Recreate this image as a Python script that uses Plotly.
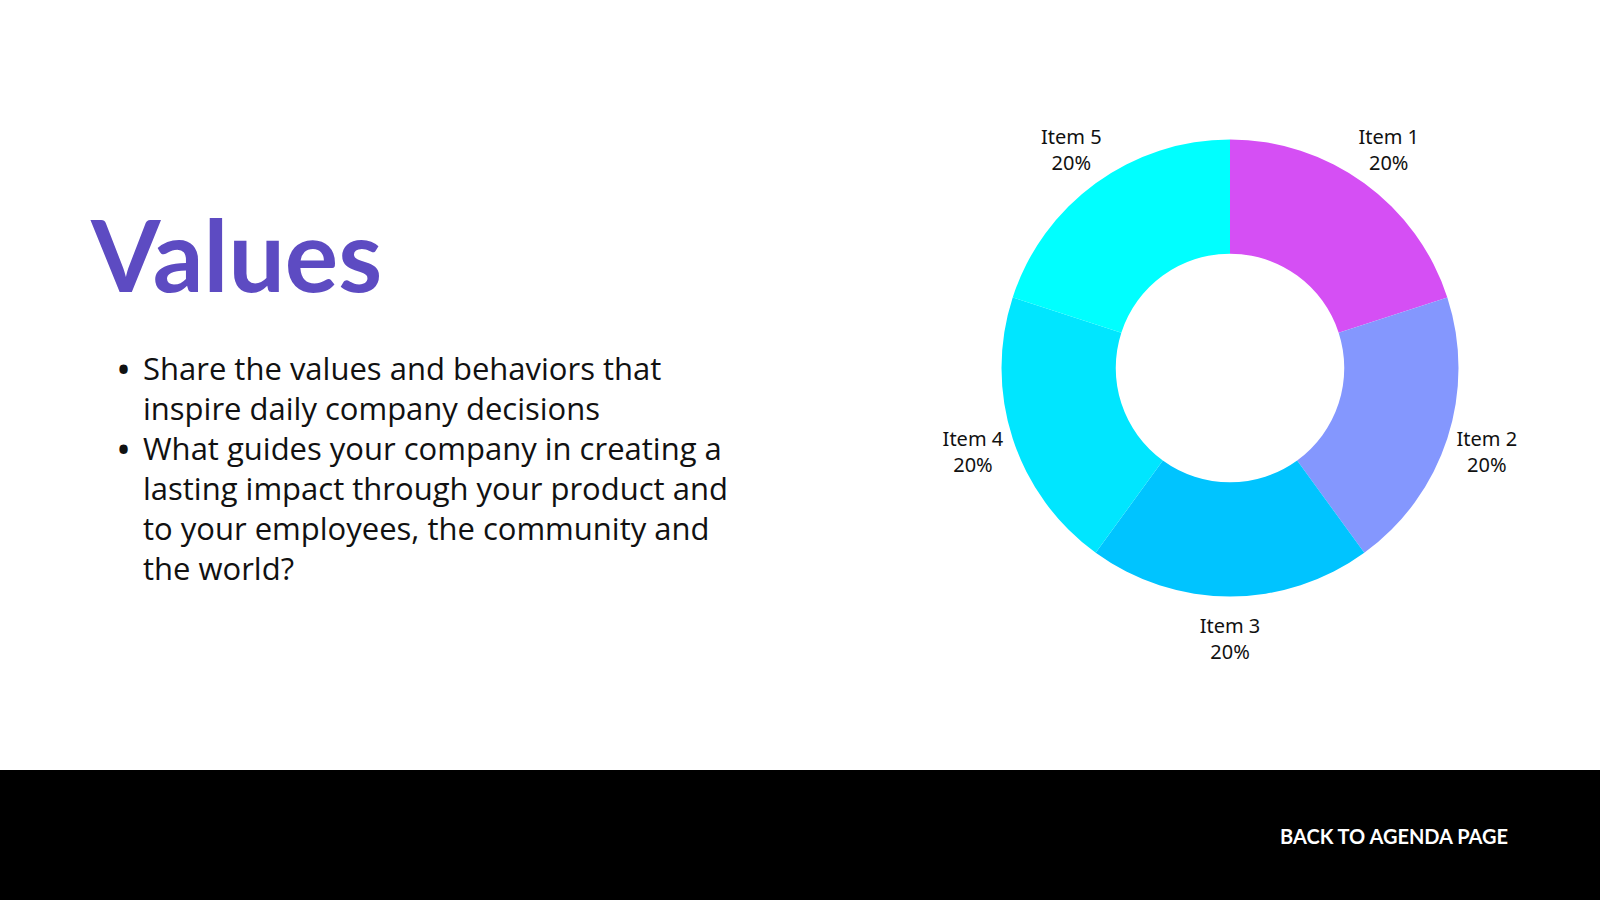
import plotly.graph_objects as go

# donut data
items = ["Item 1", "Item 2", "Item 3", "Item 4", "Item 5"]
shares = [20, 20, 20, 20, 20]
slice_colors = ["#D54FF4", "#8497FE", "#00C4FF", "#00E6FF", "#00FFFF"]

title = "Values"
bullets = [
    ["Share the values and behaviors that", "inspire daily company decisions"],
    ["What guides your company in creating a", "lasting impact through your product and",
     "to your employees, the community and", "the world?"],
]
footer = "BACK TO AGENDA PAGE"

W, H = 1600, 900
cx, cy, r = 1230, 368, 228.5


def dom(rad):
    return dict(x=[(cx - rad) / W, (cx + rad) / W], y=[1 - (cy + rad) / H, 1 - (cy - rad) / H])


fig = go.Figure()
fig.add_trace(go.Pie(
    labels=items, values=shares, hole=0.5,
    sort=False, direction="clockwise", rotation=0,
    marker=dict(colors=slice_colors, line=dict(width=0)),
    textinfo="none", domain=dom(r),
    showlegend=False, hoverinfo="label+percent",
))

# invisible outer ring that carries the labels, centred at radius ~270px
r_lab, hole_lab = 320, 0.6875
fig.add_trace(go.Pie(
    labels=items, values=shares, hole=hole_lab,
    sort=False, direction="clockwise", rotation=0,
    marker=dict(colors=["rgba(0,0,0,0)"] * len(items), line=dict(width=0)),
    textposition="inside", insidetextorientation="horizontal",
    texttemplate="%{label}<br>%{percent:.0%}",
    textfont=dict(family="Noto Sans", size=20, color="#111111"),
    domain=dom(r_lab), showlegend=False, hoverinfo="skip",
))

# black footer band
fig.add_shape(type="rect", xref="paper", yref="paper", x0=0, x1=1, y0=0, y1=(H - 770) / H,
              fillcolor="#000000", line=dict(width=0), layer="below")

fig.add_annotation(text=footer, xref="paper", yref="paper", x=1278 / W, y=1 - 836 / H,
                   xanchor="left", yanchor="middle", showarrow=False,
                   font=dict(family="Lato", size=20, color="white", weight="bold"))

fig.add_annotation(text=title, xref="paper", yref="paper", x=88 / W, y=1 - 253 / H,
                   xanchor="left", yanchor="middle", showarrow=False,
                   font=dict(family="Lato", size=100, color="#5D4BC2", weight="bold"))

# bullet list, one annotation per line so spacing stays fixed
line_h = 40
top_line = 368
row = 0
for lines in bullets:
    fig.add_annotation(text="•", xref="paper", yref="paper", x=114 / W,
                       y=1 - (top_line + row * line_h) / H,
                       xanchor="left", yanchor="middle", showarrow=False,
                       font=dict(family="Open Sans", size=40, color="#111111"))
    for ln in lines:
        fig.add_annotation(text=ln, xref="paper", yref="paper", x=141 / W,
                           y=1 - (top_line + row * line_h) / H,
                           xanchor="left", yanchor="middle", showarrow=False,
                           font=dict(family="Open Sans", size=31, color="#111111"))
        row += 1

fig.update_layout(width=W, height=H, margin=dict(l=0, r=0, t=0, b=0),
                  paper_bgcolor="white", plot_bgcolor="white")

fig.write_html("out.html", config={"displayModeBar": False},
               post_script="document.body.style.margin='0';document.body.style.overflow='hidden';")
